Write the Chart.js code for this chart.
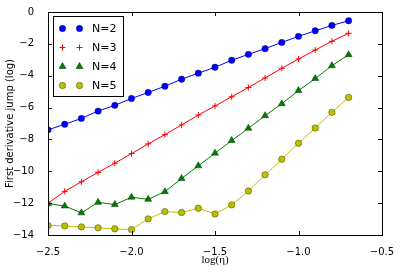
<!DOCTYPE html>
<html>
<head>
<meta charset="utf-8">
<script src="https://cdn.jsdelivr.net/npm/chart.js@4.4.1/dist/chart.umd.min.js"></script>
<style>
    body { margin: 0; background: #fff; }
    #wrap { width: 401px; height: 276px; }
</style>
</head>
<body>
<div id="wrap"><canvas id="jump-chart" width="401" height="276"></canvas></div>
<script>
// log(eta) values
const logEta = [-2.5, -2.4, -2.3, -2.2, -2.1, -2.0, -1.9, -1.8, -1.7, -1.6,
    -1.5, -1.4, -1.3, -1.2, -1.1, -1.0, -0.9, -0.8, -0.7];

const jumpN2 = [-7.4, -7.05, -6.68, -6.22, -5.86, -5.43, -5.05, -4.66, -4.22, -3.84,
    -3.47, -3.03, -2.66, -2.3, -1.91, -1.53, -1.18, -0.84, -0.55];
const jumpN3 = [-12.0, -11.26, -10.66, -10.07, -9.49, -8.89, -8.28, -7.7, -7.09, -6.47,
    -5.9, -5.32, -4.74, -4.14, -3.53, -2.95, -2.39, -1.84, -1.34];
const jumpN4 = [-12.03, -12.18, -12.61, -11.95, -12.09, -11.63, -11.76, -11.28, -10.45, -9.66,
    -8.86, -8.07, -7.3, -6.51, -5.76, -4.93, -4.18, -3.37, -2.68];
const jumpN5 = [-13.4, -13.43, -13.49, -13.55, -13.61, -13.66, -12.99, -12.53, -12.59, -12.32,
    -12.68, -12.11, -11.24, -10.22, -9.24, -8.24, -7.28, -6.3, -5.36];

const seriesLabels = ["N=2", "N=3", "N=4", "N=5"];
const xTicks = [-2.5, -2.0, -1.5, -1.0, -0.5];
const yTicks = [0, -2, -4, -6, -8, -10, -12, -14];

const FONT = "'DejaVu Sans', sans-serif";

function toPoints(values) {
    return values.map((v, i) => ({ x: logEta[i], y: v }));
}

function minusSign(text) {
    return text.replace("-", "\u2212");
}

// one dataset per N, matplotlib style markers
function makeDataset(label, values, color, style, radius, edge) {
    return {
        label: label,
        data: toPoints(values),
        borderColor: color,
        borderWidth: 1,
        backgroundColor: color,
        pointStyle: style,
        pointRadius: radius,
        pointBackgroundColor: color,
        pointBorderColor: edge,
        pointBorderWidth: style === "cross" ? 1 : 0.7,
        pointHoverRadius: radius,
        tension: 0,
        fill: false,
        clip: 0,
    };
}

// inward ticks on all four sides plus the box
const frameTicks = {
    id: "frameTicks",
    afterDraw(chart) {
        const { ctx, chartArea: a, scales } = chart;
        const len = 4;
        ctx.save();
        ctx.strokeStyle = "#000";
        ctx.lineWidth = 1;
        ctx.beginPath();
        xTicks.forEach((t) => {
            const px = Math.round(scales.x.getPixelForValue(t)) + 0.5;
            ctx.moveTo(px, a.bottom);
            ctx.lineTo(px, a.bottom - len);
            ctx.moveTo(px, a.top);
            ctx.lineTo(px, a.top + len);
        });
        yTicks.forEach((t) => {
            const py = Math.round(scales.y.getPixelForValue(t)) + 0.5;
            ctx.moveTo(a.left, py);
            ctx.lineTo(a.left + len, py);
            ctx.moveTo(a.right, py);
            ctx.lineTo(a.right - len, py);
        });
        ctx.stroke();
        ctx.strokeRect(Math.round(a.left) + 0.5, Math.round(a.top) + 0.5,
            Math.round(a.right - a.left), Math.round(a.bottom - a.top));
        ctx.restore();
    },
};

// legend box in upper left, two markers per entry
function drawMarker(ctx, ds, x, y) {
    const r = ds.pointRadius;
    ctx.fillStyle = ds.pointBackgroundColor;
    ctx.strokeStyle = ds.pointBorderColor;
    ctx.lineWidth = ds.pointBorderWidth;
    ctx.beginPath();
    if (ds.pointStyle === "circle") {
        ctx.arc(x, y, r, 0, Math.PI * 2);
        ctx.fill();
        ctx.stroke();
    } else if (ds.pointStyle === "triangle") {
        ctx.moveTo(x, y - r);
        ctx.lineTo(x + r * 0.866, y + r * 0.5);
        ctx.lineTo(x - r * 0.866, y + r * 0.5);
        ctx.closePath();
        ctx.fill();
        ctx.stroke();
    } else {
        ctx.moveTo(x - r, y);
        ctx.lineTo(x + r, y);
        ctx.moveTo(x, y - r);
        ctx.lineTo(x, y + r);
        ctx.stroke();
    }
}

const boxLegend = {
    id: "boxLegend",
    afterDraw(chart) {
        const ctx = chart.ctx;
        const left = 53.5, top = 16.5, w = 70, h = 80;
        ctx.save();
        ctx.fillStyle = "#fff";
        ctx.fillRect(left, top, w, h);
        ctx.strokeStyle = "#000";
        ctx.lineWidth = 1;
        ctx.strokeRect(left, top, w, h);
        ctx.font = "11px " + FONT;
        ctx.textBaseline = "middle";
        chart.data.datasets.forEach((ds, i) => {
            const y = 28.5 + i * 19;
            drawMarker(ctx, ds, 62.5, y);
            drawMarker(ctx, ds, 79.5, y);
            ctx.fillStyle = "#000";
            ctx.fillText(ds.label, 92, y + 0.5);
        });
        ctx.restore();
    },
};

function initializeChart() {
    const canvas = document.getElementById("jump-chart");
    if (!canvas) {
        console.error("Canvas element not found!");
        return;
    }

    const config = {
        type: "scatter",
        data: {
            datasets: [
                makeDataset(seriesLabels[0], jumpN2, "#0000ff", "circle", 3.2, "rgba(0,0,80,0.6)"),
                makeDataset(seriesLabels[1], jumpN3, "#ff0000", "cross", 3, "#ff0000"),
                makeDataset(seriesLabels[2], jumpN4, "#008000", "triangle", 4, "rgba(0,40,0,0.7)"),
                makeDataset(seriesLabels[3], jumpN5, "#bfbf00", "circle", 3.2, "rgba(60,60,0,0.7)"),
            ],
        },
        options: {
            responsive: false,
            animation: false,
            devicePixelRatio: 1,
            showLine: true,
            layout: { padding: { left: 0, right: 19, top: 11, bottom: 0 } },
            plugins: {
                legend: { display: false },
                tooltip: { enabled: false },
            },
            scales: {
                x: {
                    type: "linear",
                    min: -2.5,
                    max: -0.5,
                    afterBuildTicks: (scale) => {
                        scale.ticks = xTicks.map((v) => ({ value: v }));
                    },
                    afterFit: (scale) => { scale.height = 41; },
                    grid: { display: false },
                    border: { display: false },
                    ticks: {
                        color: "#000",
                        padding: 3,
                        maxRotation: 0,
                        font: { family: FONT, size: 10 },
                        callback: (v) => minusSign(Number(v).toFixed(1)),
                    },
                    title: {
                        display: true,
                        text: "log(\u03b7)",
                        color: "#000",
                        padding: { top: 0, bottom: 9 },
                        font: { family: "'Liberation Serif', 'DejaVu Serif', serif", size: 11 },
                    },
                },
                y: {
                    type: "linear",
                    min: -14,
                    max: 0,
                    afterBuildTicks: (scale) => {
                        scale.ticks = yTicks.map((v) => ({ value: v }));
                    },
                    afterFit: (scale) => { scale.width = 48; },
                    grid: { display: false },
                    border: { display: false },
                    ticks: {
                        color: "#000",
                        padding: 6,
                        font: { family: FONT, size: 10 },
                        callback: (v) => minusSign(String(v)),
                    },
                    title: {
                        display: true,
                        text: "First derivative jump (log)",
                        color: "#000",
                        padding: { top: 4, bottom: 0 },
                        font: { family: FONT, size: 10 },
                    },
                },
            },
        },
        plugins: [frameTicks, boxLegend],
    };

    canvas.chart = new Chart(canvas, config);
}

document.addEventListener("DOMContentLoaded", initializeChart);
</script>
</body>
</html>
